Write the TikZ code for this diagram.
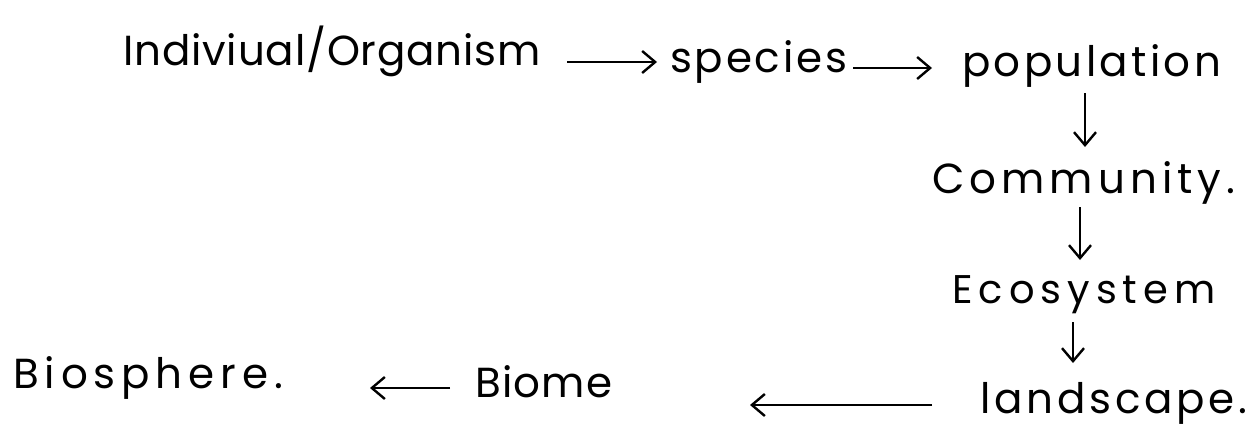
\documentclass[tikz,border=0pt]{standalone}
\usepackage{fontspec}
\setmainfont{Poppins}
\usetikzlibrary{arrows.meta,calc}
\begin{document}
\begin{tikzpicture}[x=1pt,y=-1pt,
  lbl/.style={inner sep=0pt,anchor=base west,font=\fontsize{42}{46}\selectfont},
  ls/.style={font=\fontsize{42}{46}\selectfont\addfontfeature{LetterSpace=#1}},
  arr/.style={line width=2.4pt,-{Straight Barb[length=13pt,width=22pt,line width=2.4pt]}}]
\useasboundingbox[fill=white] (0,0) rectangle (1260,428);
\node[lbl,ls=2] (org) at (123,66) {Indiviual/Organism};
\node[lbl,ls=6.6] (spe) at (670,72) {species};
\node[lbl,ls=8] (pop) at (962,77) {population};
\node[lbl,ls=12] (com) at (932,193) {Community.};
\node[lbl,font=\fontsize{40}{44}\selectfont\addfontfeature{LetterSpace=15}] (eco) at (952,303) {Ecosystem};
\node[lbl,ls=9] (lan) at (980,413) {landscape.};
\node[lbl,ls=3] (bio) at (475,397) {Biome};
\node[lbl,ls=14] (bsp) at (13,388) {Biosphere.};
\draw[arr] ($(org.base west)+(444,-4)$) -- ($(spe.base west)+(-13,-10)$);
\draw[arr] ($(spe.base west)+(183,-4)$) -- ($(pop.base west)+(-30,-9)$);
\draw[arr] ($(pop.base west)+(123,16)$) -- ($(com.base west)+(153,-46)$);
\draw[arr] ($(com.base west)+(148,14)$) -- ($(eco.base west)+(128,-43)$);
\draw[arr] ($(eco.base west)+(121,19)$) -- ($(lan.base west)+(93,-50)$);
\draw[arr] ($(lan.base west)+(-48,-8)$) -- ($(bio.base west)+(275,8)$);
\draw[arr] ($(bio.base west)+(-25,-9)$) -- ($(bsp.base west)+(357,0)$);
\end{tikzpicture}
\end{document}
